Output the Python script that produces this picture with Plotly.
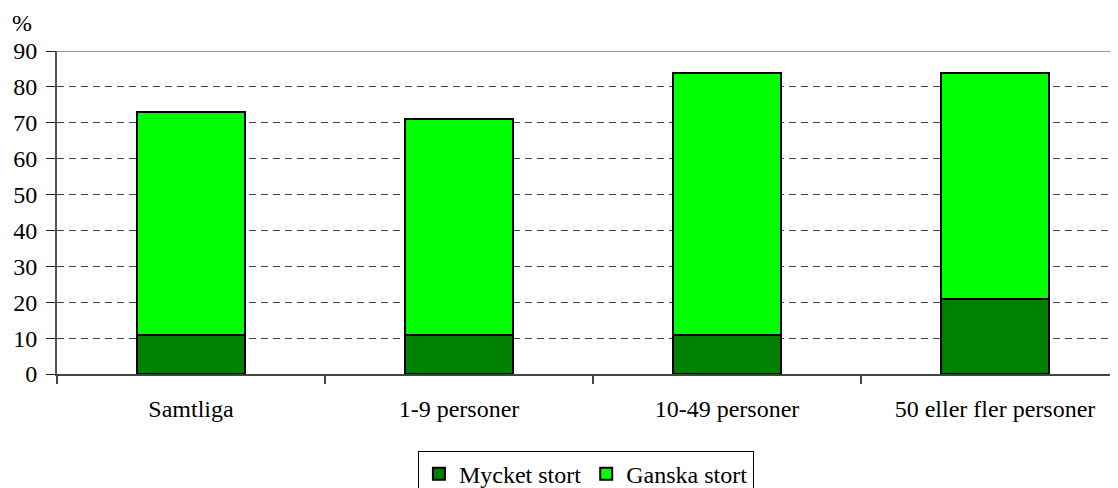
import plotly.graph_objects as go

categories = ["Samtliga", "1-9 personer", "10-49 personer", "50 eller fler personer"]
mycket_stort = [11, 11, 11, 21]
ganska_stort = [62, 60, 73, 63]
y_ticks = [0, 10, 20, 30, 40, 50, 60, 70, 80, 90]

FONT = "Times New Roman"

fig = go.Figure()
fig.add_trace(go.Bar(
    x=categories, y=mycket_stort, name="Mycket stort",
    marker=dict(color="#008000", line=dict(color="#000000", width=2)),
    width=0.4,
))
fig.add_trace(go.Bar(
    x=categories, y=ganska_stort, name="Ganska stort",
    marker=dict(color="#00FF00", line=dict(color="#000000", width=2)),
    width=0.4,
))

fig.update_layout(
    template="none",
    width=1118, height=488,
    margin=dict(l=49, r=8, t=43, b=122, autoexpand=False),
    barmode="stack",
    plot_bgcolor="white", paper_bgcolor="white",
    font=dict(family=FONT, size=24, color="#000000"),
    showlegend=True,
    legend=dict(
        orientation="h", x=0.4985, xanchor="center", y=-0.237, yanchor="top",
        bordercolor="#000000", borderwidth=1, font=dict(family=FONT, size=24, color="#000000"),
        traceorder="normal", bgcolor="white",
    ),
)
fig.update_xaxes(
    type="category", range=[-0.5, 3.459], automargin=False,
    showline=True, linecolor="#444444", linewidth=2,
    ticks="outside", ticklen=8, tickcolor="#444444", tickwidth=2,
    tickson="boundaries", showgrid=False, zeroline=False,
    ticklabelstandoff=12,
    tickfont=dict(family=FONT, size=24, color="#000000"),
)
fig.update_yaxes(
    range=[0, 90], tickvals=y_ticks, automargin=False,
    showline=True, linecolor="#555555", linewidth=2,
    ticks="outside", ticklen=9, tickcolor="#222222", tickwidth=1,
    showgrid=True, gridcolor="#444444", gridwidth=1, griddash="7px,5px",
    zeroline=False, ticklabelstandoff=4,
    tickfont=dict(family=FONT, size=24, color="#000000"),
)
fig.add_shape(type="line", xref="paper", yref="y", x0=0, x1=1, y0=90, y1=90,
              line=dict(color="#999999", width=2), layer="above")
fig.add_annotation(text="%", xref="paper", yref="paper", x=-0.044, y=1.0,
                   xanchor="left", yanchor="bottom", yshift=13, showarrow=False,
                   font=dict(family=FONT, size=24, color="#000000"))

fig.write_html("out.html")
